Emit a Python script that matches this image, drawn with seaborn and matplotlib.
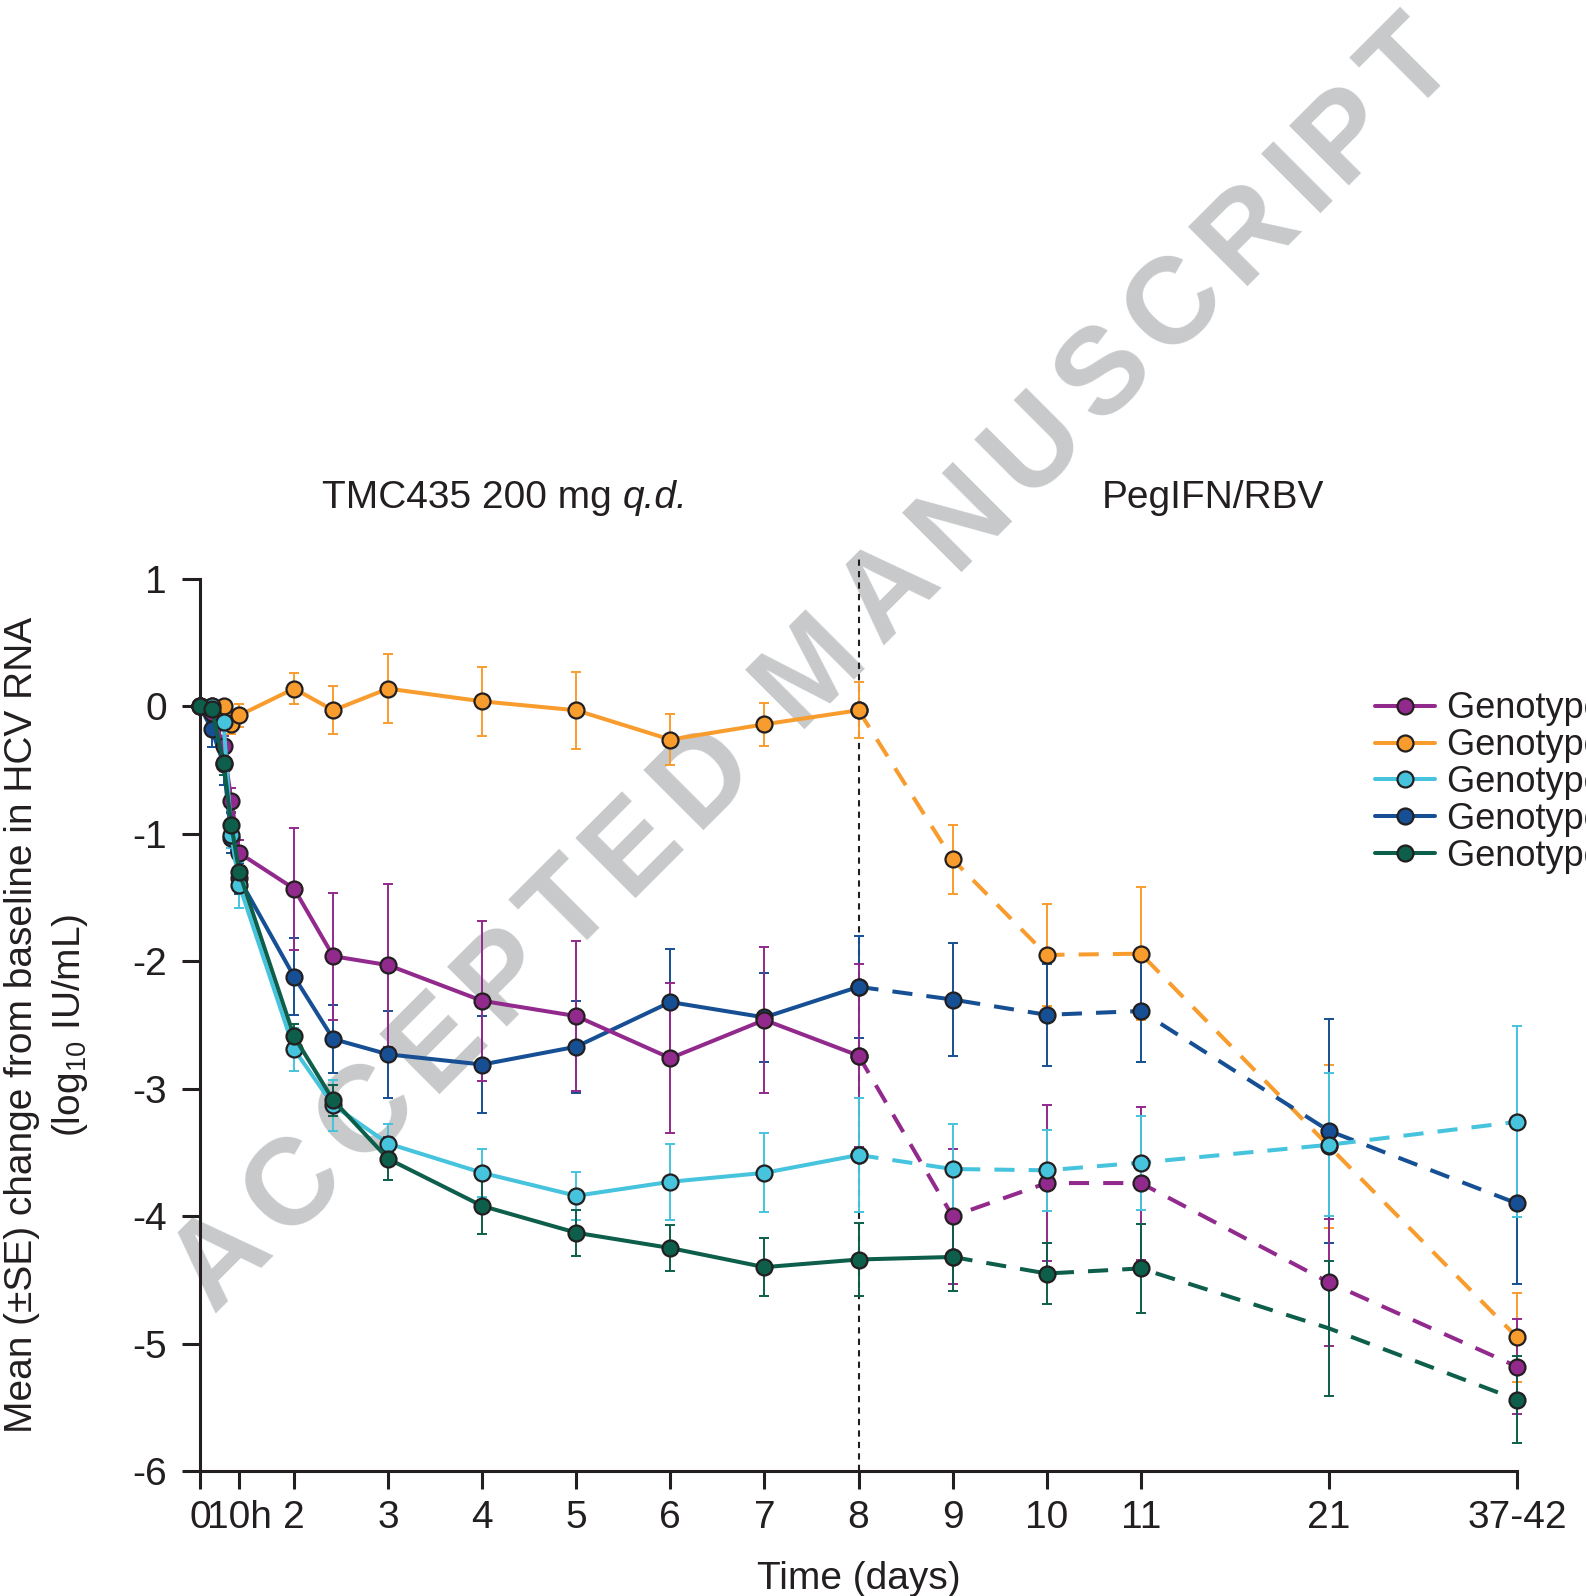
import numpy as np
import pandas as pd
import matplotlib
matplotlib.use("Agg")
import matplotlib.pyplot as plt
import seaborn as sns
from matplotlib.font_manager import FontProperties

# x positions in "axis days" (1 = baseline); day 21 and day 37-42 are squeezed onto 13 and 15
x_pos = [1, 1 + 3/24, 1 + 6/24, 1 + 8/24, 1 + 10/24, 2, 2 + 10/24, 3, 4, 5, 6, 7, 8, 9, 10, 11, 13, 15]
tick_pos = [1, 1 + 10/24, 2, 3, 4, 5, 6, 7, 8, 9, 10, 11, 13, 15]
tick_labels = ["0", "10h", "2", "3", "4", "5", "6", "7", "8", "9", "10", "11", "21", "37-42"]
y_ticks = [1, 0, -1, -2, -3, -4, -5, -6]

genotypes = ["Genotype 2", "Genotype 3", "Genotype 4", "Genotype 5", "Genotype 6"]

gt2_mean = [0, -0.05, -0.31, -0.74, -1.15, -1.43, -1.96, -2.03, -2.31, -2.43, -2.76, -2.46, -2.74, -4.00, -3.74, -3.74, -4.52, -5.18]
gt2_se = [0, 0.05, 0.08, 0.10, 0.10, 0.48, 0.50, 0.64, 0.63, 0.59, 0.59, 0.57, 0.72, 0.53, 0.61, 0.60, 0.50, 0.37]

gt3_mean = [0, 0.0, 0.0, -0.14, -0.07, 0.14, -0.03, 0.14, 0.04, -0.03, -0.26, -0.14, -0.03, -1.20, -1.95, -1.94, -3.45, -4.95]
gt3_se = [0, 0.03, 0.03, 0.08, 0.09, 0.12, 0.19, 0.27, 0.27, 0.30, 0.20, 0.17, 0.22, 0.27, 0.40, 0.52, 0.64, 0.35]

gt4_mean = [0, 0.0, -0.12, -1.01, -1.40, -2.69, -3.13, -3.43, -3.66, -3.84, -3.73, -3.66, -3.52, -3.63, -3.64, -3.58, -3.44, -3.26]
gt4_se = [0, 0.04, 0.06, 0.10, 0.18, 0.17, 0.20, 0.15, 0.19, 0.19, 0.30, 0.31, 0.45, 0.35, 0.32, 0.37, 0.56, 0.75]

gt5_mean = [0, -0.18, -0.45, -1.03, -1.35, -2.12, -2.61, -2.73, -2.81, -2.67, -2.32, -2.44, -2.20, -2.30, -2.42, -2.39, -3.33, -3.90]
gt5_se = [0, 0.14, 0.17, 0.12, 0.12, 0.30, 0.27, 0.34, 0.38, 0.36, 0.42, 0.35, 0.40, 0.44, 0.40, 0.40, 0.88, 0.63]

gt6_mean = [0, -0.02, -0.44, -0.93, -1.30, -2.59, -3.09, -3.55, -3.92, -4.13, -4.25, -4.40, -4.34, -4.32, -4.45, -4.41, -4.88, -5.44]
gt6_se = [0, 0.03, 0.10, 0.10, 0.10, 0.10, 0.12, 0.17, 0.22, 0.18, 0.18, 0.23, 0.29, 0.27, 0.24, 0.35, 0.53, 0.34]

means = {"Genotype 2": gt2_mean, "Genotype 3": gt3_mean, "Genotype 4": gt4_mean,
         "Genotype 5": gt5_mean, "Genotype 6": gt6_mean}
ses = {"Genotype 2": gt2_se, "Genotype 3": gt3_se, "Genotype 4": gt4_se,
       "Genotype 5": gt5_se, "Genotype 6": gt6_se}
colors = {"Genotype 2": "#922a8d", "Genotype 3": "#f89c2e", "Genotype 4": "#46c3dd",
          "Genotype 5": "#164f93", "Genotype 6": "#0d5e4a"}
# number of points joined by a solid line (the rest is dashed)
n_solid = {"Genotype 2": 13, "Genotype 3": 13, "Genotype 4": 13, "Genotype 5": 13, "Genotype 6": 14}
hidden_markers = {"Genotype 6": [16]}
draw_order = ["Genotype 3", "Genotype 5", "Genotype 2", "Genotype 4", "Genotype 6"]

ink = "#231f20"

sns.set_style("ticks")
plt.rcParams["font.family"] = ["Liberation Sans", "DejaVu Sans"]
plt.rcParams["mathtext.fontset"] = "custom"
plt.rcParams["mathtext.rm"] = "Liberation Sans"
plt.rcParams["mathtext.it"] = "Liberation Sans:italic"
plt.rcParams["axes.unicode_minus"] = False
plt.rcParams["lines.dashed_pattern"] = [5, 3.5]
plt.rcParams["text.color"] = ink

fig = plt.figure(figsize=(15.86, 15.96), dpi=100)
ax = fig.add_axes([0.1261, 0.0783, 0.8304, 0.5589])
ax.set_facecolor("none")

for g in draw_order:
    df = pd.DataFrame({"x": x_pos, "mean": means[g], "se": ses[g]})
    c = colors[g]
    ax.errorbar(df["x"], df["mean"], yerr=df["se"], fmt="none", ecolor=c, elinewidth=1.4,
                capsize=3.6, capthick=1.4, zorder=2, clip_on=False)
    ns = n_solid[g]
    hide = hidden_markers.get(g, [])
    solid = df.iloc[:ns]
    dashed = df.iloc[ns - 1:]
    mk_solid = [i for i in range(len(solid)) if i not in hide]
    mk_dashed = [i for i in range(len(dashed)) if i + ns - 1 not in hide]
    sns.lineplot(data=solid, x="x", y="mean", color=c, lw=2.9, marker="o", markersize=11.5,
                 markeredgecolor=ink, markeredgewidth=1.6, markevery=mk_solid,
                 estimator=None, sort=False, errorbar=None, ax=ax, label=g,
                 zorder=3, clip_on=False)
    sns.lineplot(data=dashed, x="x", y="mean", color=c, lw=2.9, marker="o", markersize=11.5,
                 markeredgecolor=ink, markeredgewidth=1.6, markevery=mk_dashed, linestyle="--",
                 estimator=None, sort=False, errorbar=None, ax=ax, legend=False,
                 zorder=3, clip_on=False)

# start of PegIFN/RBV
ax.axvline(8, ymin=0, ymax=1.022, color=ink, lw=1.5, ls=(0, (3, 2.5)), zorder=1, clip_on=False)

ax.set_xlim(1, 15)
ax.set_ylim(-6, 1)
ax.set_xticks(tick_pos, tick_labels)
ax.set_yticks(y_ticks, [str(v) for v in y_ticks])
sns.despine(ax=ax)
for s in ["left", "bottom"]:
    ax.spines[s].set_linewidth(2.2)
    ax.spines[s].set_color(ink)
ax.tick_params(direction="out", length=13, width=2.2, labelsize=28, colors=ink, pad=8)
ax.tick_params(axis="y", pad=11)

ax.set_xlabel("Time (days)", fontsize=28, color=ink)
ax.xaxis.set_label_coords(0.5, -0.1005)
ax.set_ylabel("Mean (±SE) change from baseline in HCV RNA\n(log$_{10}$ IU/mL)",
              fontsize=28, color=ink, linespacing=1.32)
ax.yaxis.set_label_coords(-0.0836, 0.5)

renderer = fig.canvas.get_renderer()
W, H = fig.bbox.width, fig.bbox.height

# phase headers; "q.d." in italics, the two parts set side by side
head_left = "TMC435 200 mg "
head_it = "q.d."
p_reg = FontProperties(family="Liberation Sans", size=28)
p_it = FontProperties(family="Liberation Sans", style="italic", size=28)
w_reg = renderer.get_text_width_height_descent(head_left + "x", p_reg, ismath=False)[0] \
    - renderer.get_text_width_height_descent("x", p_reg, ismath=False)[0]
w_it = renderer.get_text_width_height_descent(head_it, p_it, ismath=False)[0]
cx = 0.3184 * W
start = cx - (w_reg + w_it) / 2
head_y = 0.6902
fig.text(start / W, head_y, head_left, ha="left", va="center_baseline", fontproperties=p_reg)
fig.text((start + w_reg) / W, head_y, head_it, ha="left", va="center_baseline", fontproperties=p_it)
fig.text(0.7649, head_y, "PegIFN/RBV", ha="center", va="center_baseline", fontsize=28)

handles, labels = ax.get_legend_handles_labels()
order = [labels.index(g) for g in genotypes]
ax.legend([handles[i] for i in order], genotypes, loc="upper left",
          bbox_to_anchor=(0.867, 0.5668), bbox_transform=fig.transFigure, frameon=False,
          fontsize=26, handlelength=1.65, handletextpad=0.35, labelspacing=0.05,
          borderpad=0, borderaxespad=0)

# watermark, letters spread along a 45 degree line
wm_text = "ACCEPTED MANUSCRIPT"
wm_prop = FontProperties(family="Liberation Sans", weight="bold", size=88)


def text_w(s):
    return renderer.get_text_width_height_descent(s, wm_prop, ismath=False)[0]


x0, y0 = 213, 1596 - 1313
ang = np.deg2rad(45)
lefts = [text_w(wm_text[:i + 1]) - text_w(ch) for i, ch in enumerate(wm_text)]
k = (1765 - text_w(wm_text[-1])) / lefts[-1]
for i, ch in enumerate(wm_text):
    if ch == " ":
        continue
    s = lefts[i] * k
    fig.text((x0 + s * np.cos(ang)) / W, (y0 + s * np.sin(ang)) / H, ch, fontproperties=wm_prop,
             rotation=45, rotation_mode="anchor", ha="left", va="baseline",
             color="#c8c9cb", zorder=-1)

fig.savefig("out.png", dpi=100)
